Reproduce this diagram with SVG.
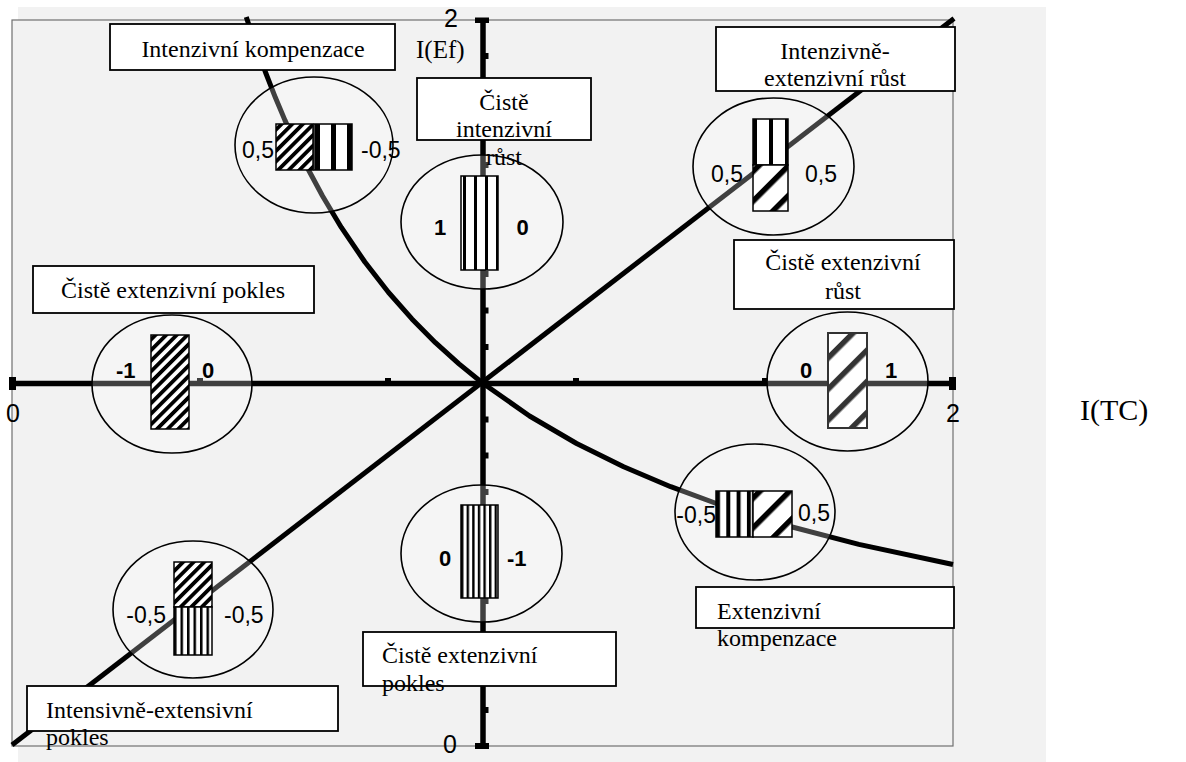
<svg xmlns="http://www.w3.org/2000/svg" width="1186" height="762" viewBox="0 0 1186 762">
<style>
.box{fill:#fff;stroke:#000;stroke-width:1.8}
.ell{fill:#fff;fill-opacity:0.25;stroke:#000;stroke-width:1.6}
.bar{stroke:#000;stroke-width:1.5}
.ser{font-family:"Liberation Serif","Times New Roman",serif;font-size:24px;fill:#000}
.san{font-family:"Liberation Sans",Arial,sans-serif;font-size:23px;fill:#000}
.bold{font-family:"Liberation Sans",Arial,sans-serif;font-size:22px;font-weight:bold;fill:#000}
.ax{font-family:"Liberation Sans",Arial,sans-serif;font-size:25px;fill:#000}
.mid{text-anchor:middle}
.end{text-anchor:end}
.curve{fill:none;stroke:#000;stroke-width:5;stroke-linejoin:round}
.axis{stroke:#000;stroke-width:5.5}
</style>
<defs>
<pattern id="hD" width="8" height="7.5" patternUnits="userSpaceOnUse" patternTransform="rotate(-45)"><rect width="8" height="7.5" fill="#fff"/><rect width="8" height="3.8" fill="#000"/></pattern>
<pattern id="hW" width="10" height="21" patternUnits="userSpaceOnUse" patternTransform="rotate(-45)"><rect width="10" height="21" fill="#fff"/><rect width="10" height="5.5" fill="#000"/></pattern>
<pattern id="hG" width="10" height="22" patternUnits="userSpaceOnUse" patternTransform="rotate(-45)"><rect width="10" height="22" fill="#fff"/><rect width="10" height="5.5" fill="#333"/></pattern>
<pattern id="v1" x="315" y="0" width="16" height="10" patternUnits="userSpaceOnUse"><rect width="16" height="10" fill="#fff"/><rect width="5" height="10" fill="#000"/></pattern>
<pattern id="v2" x="463" y="0" width="11" height="10" patternUnits="userSpaceOnUse"><rect width="11" height="10" fill="#fff"/><rect width="3" height="10" fill="#000"/></pattern>
<pattern id="v3" x="753" y="0" width="16" height="10" patternUnits="userSpaceOnUse"><rect width="16" height="10" fill="#fff"/><rect width="4" height="10" fill="#000"/></pattern>
<pattern id="v6" x="461" y="0" width="5.6" height="10" patternUnits="userSpaceOnUse"><rect width="5.6" height="10" fill="#fff"/><rect width="2.4" height="10" fill="#000"/></pattern>
<pattern id="v7" x="716" y="0" width="10.3" height="10" patternUnits="userSpaceOnUse"><rect width="10.3" height="10" fill="#fff"/><rect width="4" height="10" fill="#000"/></pattern>
<pattern id="v8" x="174" y="0" width="6.5" height="10" patternUnits="userSpaceOnUse"><rect width="6.5" height="10" fill="#fff"/><rect width="2.5" height="10" fill="#000"/></pattern>
</defs>

<rect x="18" y="7" width="1028" height="755" fill="#f2f2f2"/>
<rect x="12" y="20" width="941" height="726" fill="#f2f2f2" stroke="#707070" stroke-width="1.2"/>

<g id="connectors">
  <line class="axis" x1="12" y1="383.5" x2="953" y2="383.5"/>
  <line class="axis" x1="483" y1="20" x2="483" y2="746"/>
  <g fill="#000">
    <rect x="9" y="377" width="7" height="13"/>
    <rect x="949" y="377" width="7" height="13"/>
    <rect x="475" y="17.5" width="14" height="5.5"/>
    <rect x="475" y="743" width="14" height="6"/>
    <rect x="197" y="378" width="6" height="3"/>
    <rect x="385" y="378" width="6" height="3"/>
    <rect x="573" y="378" width="6" height="3"/>
    <rect x="762" y="378" width="6" height="3"/>
    <rect x="485" y="53" width="3.5" height="6"/>
    <rect x="485" y="90" width="3.5" height="6"/>
    <rect x="485" y="126" width="3.5" height="6"/>
    <rect x="485" y="162" width="3.5" height="6"/>
    <rect x="485" y="198.5" width="3.5" height="6"/>
    <rect x="485" y="235" width="3.5" height="6"/>
    <rect x="485" y="271" width="3.5" height="6"/>
    <rect x="485" y="307.5" width="3.5" height="6"/>
    <rect x="485" y="344" width="3.5" height="6"/>
    <rect x="485" y="416.5" width="3.5" height="6"/>
    <rect x="485" y="452.5" width="3.5" height="6"/>
    <rect x="485" y="489" width="3.5" height="6"/>
    <rect x="485" y="525" width="3.5" height="6"/>
    <rect x="485" y="561.5" width="3.5" height="6"/>
    <rect x="485" y="598" width="3.5" height="6"/>
    <rect x="485" y="634" width="3.5" height="6"/>
    <rect x="485" y="670.5" width="3.5" height="6"/>
    <rect x="485" y="707" width="3.5" height="6"/>
  </g>
  <line class="curve" x1="12" y1="745" x2="954" y2="18.5"/>
  <polyline class="curve" points="246.3,17 247.25,20 256.66,47.92 266.07,73.78 275.48,97.79 284.89,120.14 294.3,141 308.42,169.81 322.53,196 341.35,227.43 364.88,262 388.4,292.25 411.93,318.94 435.45,342.67 458.98,363.89 482.5,383 529.55,416 576.6,443.5 623.65,466.77 670.7,486.71 717.75,504 788.33,526 858.9,544.33 953,564.5"/>
</g>

<g id="intenzivni-kompenzace">
  <rect class="box" x="110" y="24" width="285" height="46"/>
  <text class="ser mid" x="253" y="57">Intenzivní kompenzace</text>
  <ellipse class="ell" cx="314" cy="145" rx="79" ry="68"/>
  <rect class="bar" x="276" y="124" width="37" height="46" fill="url(#hD)"/>
  <rect class="bar" x="314" y="124" width="38" height="46" fill="url(#v1)"/>
  <text class="san end" x="274" y="158">0,5</text>
  <text class="san" x="361" y="158">-0,5</text>
</g>

<g id="ciste-intenzivni-rust">
  <rect class="box" x="417" y="78" width="174" height="62"/>
  <ellipse class="ell" cx="482" cy="222" rx="81" ry="67"/>
  <rect class="bar" x="461" y="176" width="37" height="94" fill="url(#v2)"/>
  <text class="bold mid" x="440" y="235">1</text>
  <text class="bold mid" x="522.5" y="235">0</text>
  <text class="ser mid" x="504" y="110">Čistě</text>
  <text class="ser mid" x="504" y="137">intenzivní</text>
  <text class="ser mid" x="504" y="165">růst</text>
</g>

<g id="intenzivne-extenzivni-rust">
  <rect class="box" x="716" y="27" width="239" height="64"/>
  <text class="ser mid" x="835" y="59">Intenzivně-</text>
  <text class="ser mid" x="835" y="86">extenzivní růst</text>
  <ellipse class="ell" cx="773.5" cy="166.5" rx="80.5" ry="68.5"/>
  <rect class="bar" x="753" y="119" width="35" height="46" fill="url(#v3)"/>
  <rect class="bar" x="753" y="165" width="35" height="46" fill="url(#hW)"/>
  <text class="san" x="711" y="182">0,5</text>
  <text class="san" x="805" y="182">0,5</text>
</g>

<g id="ciste-extenzivni-rust">
  <rect class="box" x="734" y="240" width="220" height="69"/>
  <text class="ser mid" x="843" y="270">Čistě extenzivní</text>
  <text class="ser mid" x="843" y="299">růst</text>
  <ellipse class="ell" cx="847.5" cy="381.5" rx="80.5" ry="69.5"/>
  <rect x="828" y="333" width="39" height="95" fill="url(#hG)" stroke="#333" stroke-width="2"/>
  <text class="bold" x="800" y="378">0</text>
  <text class="bold" x="885" y="378">1</text>
</g>

<g id="ciste-extenzivni-pokles-left">
  <rect class="box" x="33" y="266" width="281" height="47"/>
  <text class="ser mid" x="173" y="298">Čistě extenzivní pokles</text>
  <ellipse class="ell" cx="172" cy="384" rx="80" ry="69"/>
  <rect class="bar" x="151" y="335" width="38" height="94" fill="url(#hD)"/>
  <text class="bold" x="116" y="378">-1</text>
  <text class="bold" x="202" y="378">0</text>
</g>

<g id="ciste-extenzivni-pokles-bottom">
  <ellipse class="ell" cx="481.5" cy="553.5" rx="80.5" ry="68.5"/>
  <rect class="bar" x="461" y="505" width="37" height="93" fill="url(#v6)"/>
  <text class="bold" x="439" y="566">0</text>
  <text class="bold" x="507" y="566">-1</text>
  <rect class="box" x="363" y="632" width="253" height="54"/>
  <text class="ser" x="382" y="663">Čistě extenzivní</text>
  <text class="ser" x="382" y="691">pokles</text>
</g>

<g id="extenzivni-kompenzace">
  <ellipse class="ell" cx="755" cy="512" rx="80" ry="68"/>
  <rect class="bar" x="716" y="491" width="37" height="46" fill="url(#v7)"/>
  <rect class="bar" x="753" y="491" width="39" height="46" fill="url(#hW)"/>
  <text class="san end" x="716" y="523">-0,5</text>
  <text class="san" x="798" y="521">0,5</text>
  <rect class="box" x="696" y="587" width="258" height="41"/>
  <text class="ser" x="717" y="619">Extenzivní</text>
  <text class="ser" x="717" y="646">kompenzace</text>
</g>

<g id="intensivne-extensivni-pokles">
  <ellipse class="ell" cx="193" cy="609.5" rx="80" ry="68.5"/>
  <rect class="bar" x="174" y="562" width="38" height="45" fill="url(#hD)"/>
  <rect class="bar" x="174" y="607" width="38" height="48" fill="url(#v8)"/>
  <text class="san end" x="166" y="623">-0,5</text>
  <text class="san" x="224" y="623">-0,5</text>
  <rect class="box" x="27" y="686" width="311" height="45"/>
  <text class="ser" x="46" y="718">Intensivně-extensivní</text>
  <text class="ser" x="46" y="745">pokles</text>
</g>

<g id="axis-labels">
  <text class="ax mid" x="13" y="422">0</text>
  <text class="ax mid" x="953" y="422">2</text>
  <text class="ax mid" x="451" y="27">2</text>
  <text class="ax mid" x="450" y="753">0</text>
  <text class="ser" x="416" y="58" style="font-size:25px">I(Ef)</text>
  <text class="ser" x="1080" y="420" style="font-size:30px">I(TC)</text>
</g>
</svg>
